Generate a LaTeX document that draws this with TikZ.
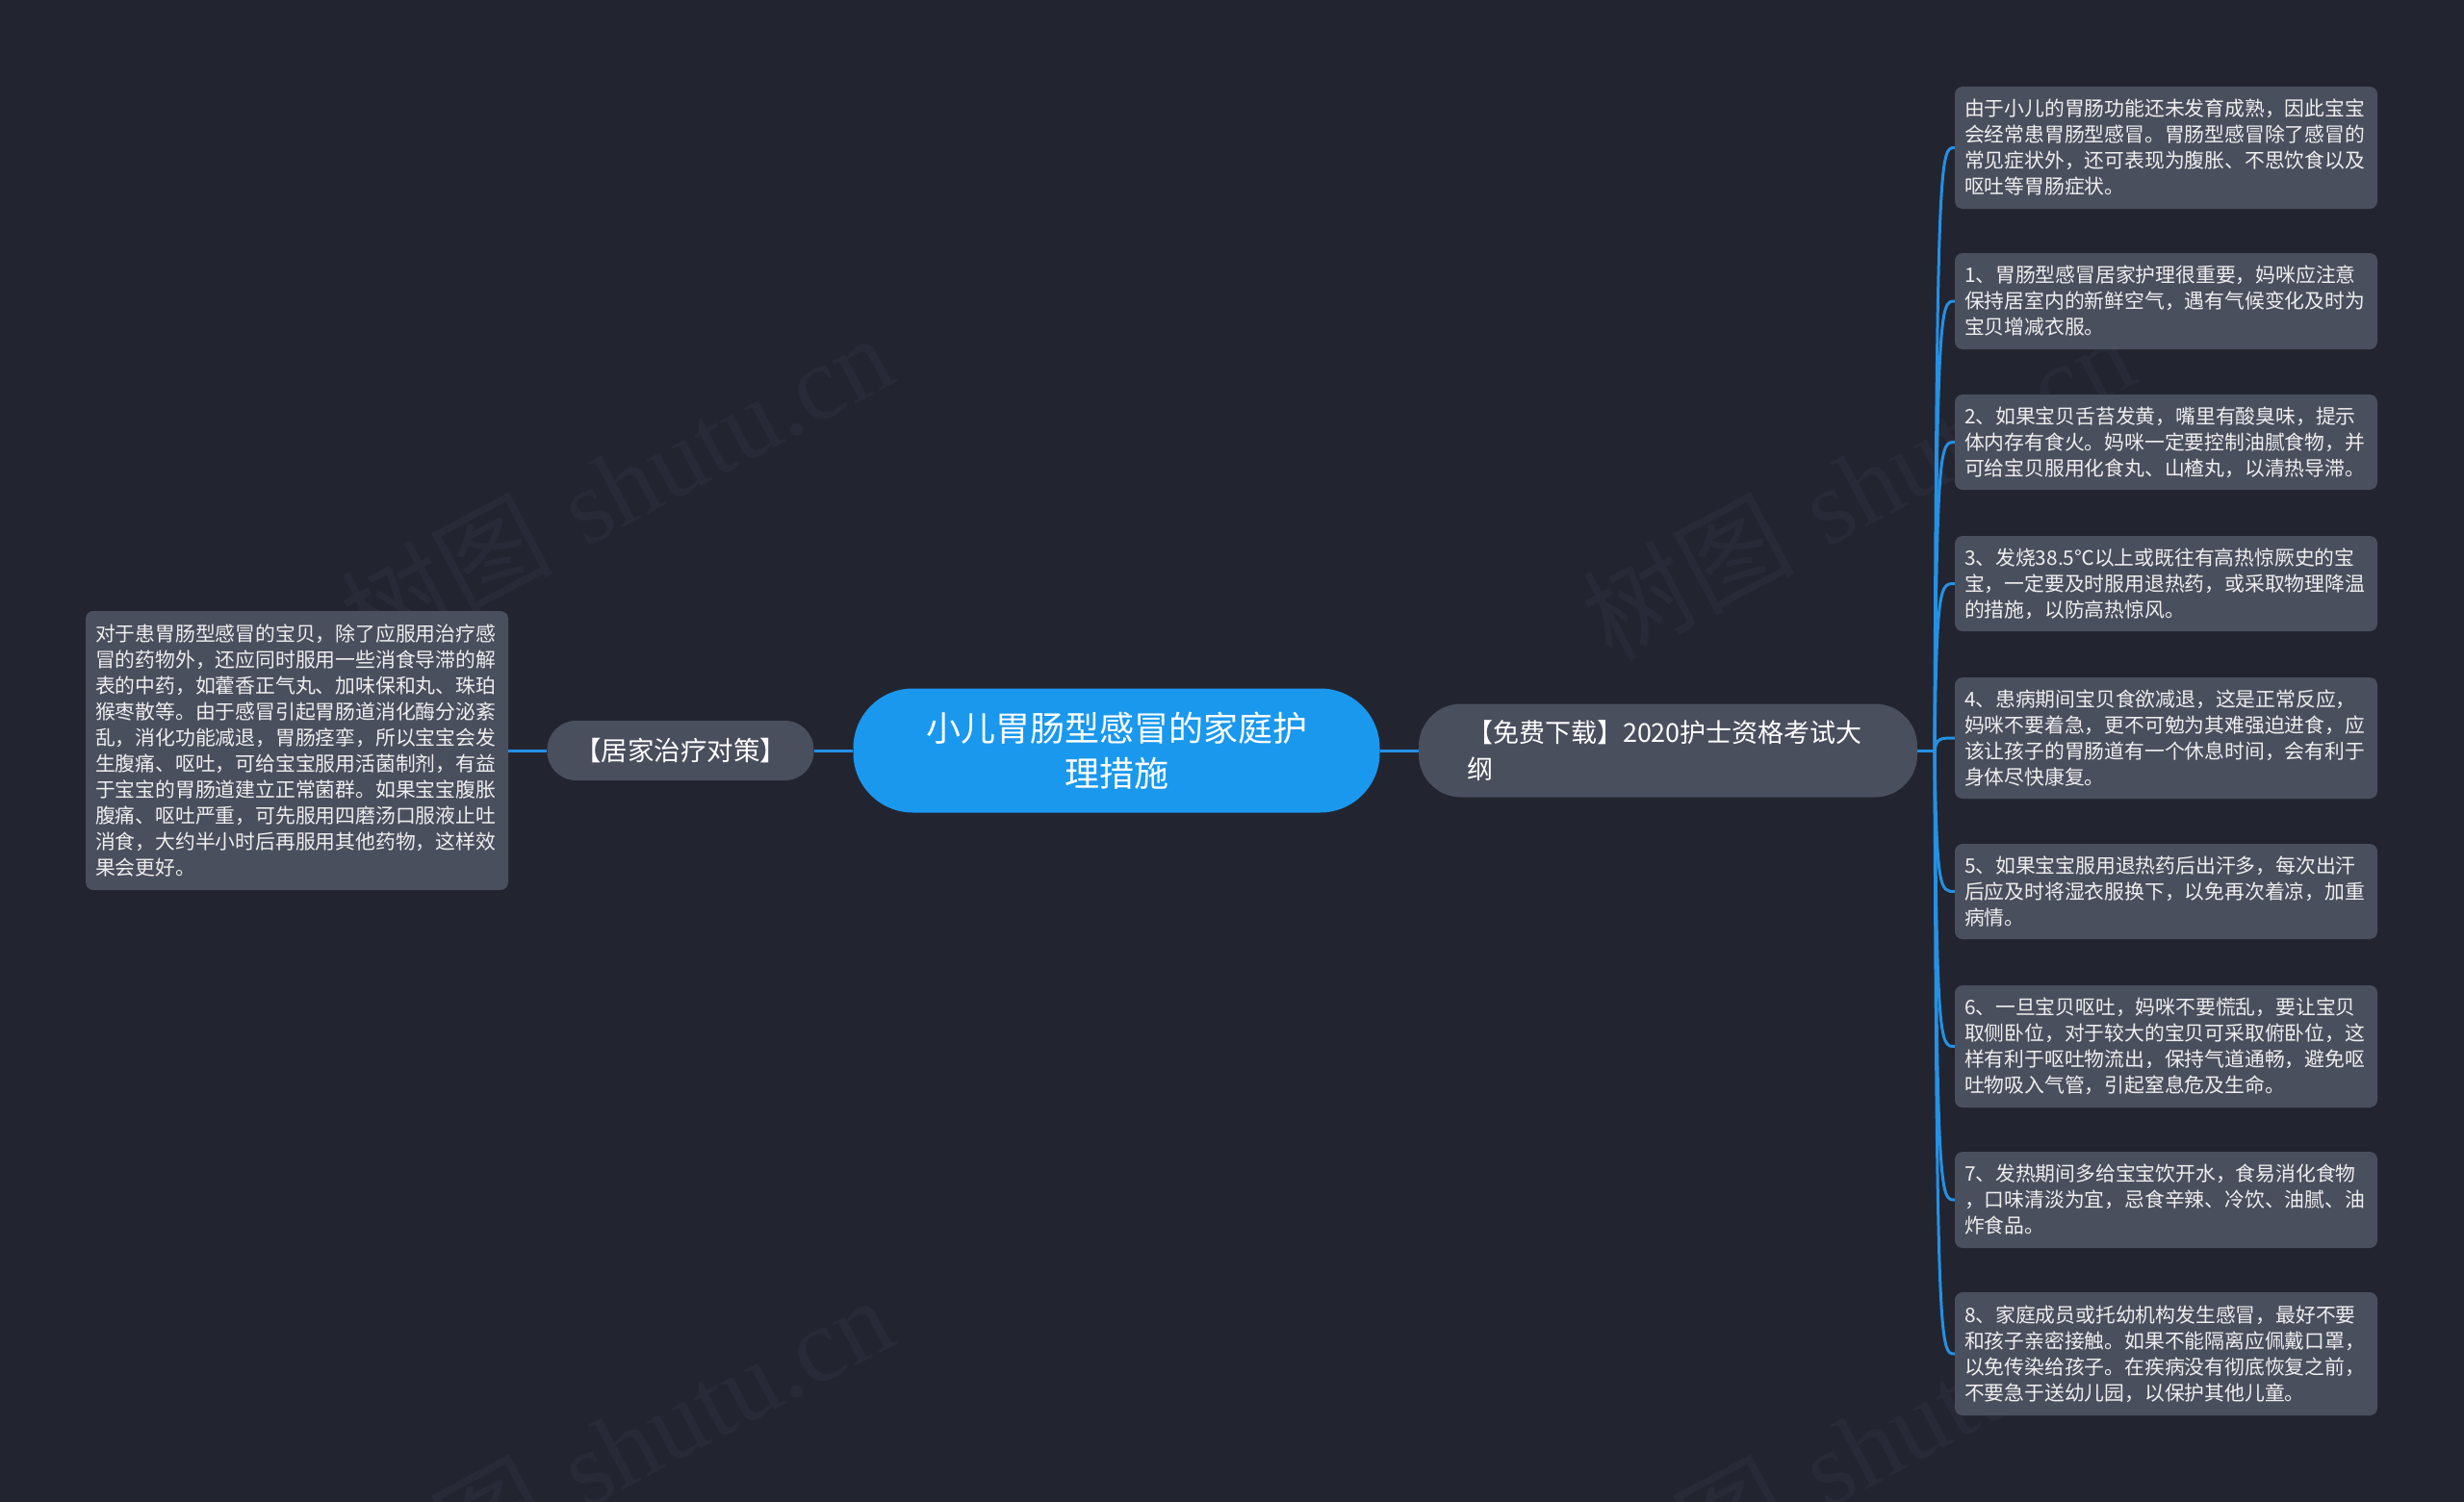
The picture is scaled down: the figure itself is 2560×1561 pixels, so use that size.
\documentclass[tikz,border=0pt]{standalone}
\usepackage{fontspec}
\usetikzlibrary{calc}
\newfontfamily\cjk{Noto Sans CJK SC}
\newfontfamily\wmserif{Liberation Serif}
\definecolor{bg}{HTML}{222530}
\definecolor{leaffill}{HTML}{4A4F5E}
\definecolor{mainblue}{HTML}{1A98EE}
\definecolor{linkblue}{HTML}{2590E4}
\definecolor{leaftext}{HTML}{EEEEEE}
\definecolor{wmcol}{HTML}{282B37}
\begin{document}
\begin{tikzpicture}[x=1pt,y=-1pt,
  leafbox/.style={fill=leaffill, rounded corners=8pt, text=leaftext,
    font=\cjk\fontsize{20.8}{27}\selectfont, text width=419pt,
    inner xsep=10pt, inner ysep=0pt, align=left},
  centerbox/.style={fill=mainblue, rounded corners=62pt, text=white,
    font=\cjk\fontsize{36}{47}\selectfont, align=center,
    minimum width=547pt, minimum height=129pt, inner sep=0pt},
  branchbox/.style={fill=leaffill, text=white, inner sep=0pt},
  link/.style={draw=linkblue, line width=3pt},
  wmark/.style={text=wmcol, rotate=28, inner sep=0pt, font=\fontsize{110}{110}\selectfont}]
\useasboundingbox (0,0) rectangle (2560,1561);
\fill[bg] (0,0) rectangle (2560,1561);

% watermarks
\node[wmark] (wm1) at (640,505) {{\cjk 树图} {\wmserif shutu.cn}};
\node[wmark] (wm2) at (1930,505) {{\cjk 树图} {\wmserif shutu.cn}};
\node[wmark] (wm3) at (640,1505) {{\cjk 树图} {\wmserif shutu.cn}};
\node[wmark] (wm4) at (1930,1505) {{\cjk 树图} {\wmserif shutu.cn}};

% center
\node[centerbox] (center) at (1160,780) {小儿胃肠型感冒的家庭护\\理措施};

% left branch
\node[branchbox, rounded corners=30pt, minimum width=277pt, minimum height=62pt,
  font=\cjk\fontsize{27.5}{36}\selectfont] (lbranch) at (707,780) {【居家治疗对策】};

% right branch
\node[branchbox, rounded corners=44pt, minimum height=97pt, text width=418pt,
  inner xsep=50pt, align=left, font=\cjk\fontsize{27}{38}\selectfont]
  (rbranch) at (1733,780) {【免费下载】2020护士资格考试大\\纲};

% left leaf
\node[leafbox, minimum height=290pt] (ll) at (308.5,780) {对于患胃肠型感冒的宝贝，除了应服用治疗感\\冒的药物外，还应同时服用一些消食导滞的解\\表的中药，如藿香正气丸、加味保和丸、珠珀\\猴枣散等。由于感冒引起胃肠道消化酶分泌紊\\乱，消化功能减退，胃肠痉挛，所以宝宝会发\\生腹痛、呕吐，可给宝宝服用活菌制剂，有益\\于宝宝的胃肠道建立正常菌群。如果宝宝腹胀\\腹痛、呕吐严重，可先服用四磨汤口服液止吐\\消食，大约半小时后再服用其他药物，这样效\\果会更好。};

% right leaves
\node[leafbox, minimum height=127pt] (r0) at (2250.5,153.5) {由于小儿的胃肠功能还未发育成熟，因此宝宝\\会经常患胃肠型感冒。胃肠型感冒除了感冒的\\常见症状外，还可表现为腹胀、不思饮食以及\\呕吐等胃肠症状。};
\node[leafbox, minimum height=100pt] (r1) at (2250.5,313) {1、胃肠型感冒居家护理很重要，妈咪应注意\\保持居室内的新鲜空气，遇有气候变化及时为\\宝贝增减衣服。};
\node[leafbox, minimum height=99pt] (r2) at (2250.5,459.5) {2、如果宝贝舌苔发黄，嘴里有酸臭味，提示\\体内存有食火。妈咪一定要控制油腻食物，并\\可给宝贝服用化食丸、山楂丸，以清热导滞。};
\node[leafbox, minimum height=99pt] (r3) at (2250.5,606.5) {3、发烧38.5℃以上或既往有高热惊厥史的宝\\宝，一定要及时服用退热药，或采取物理降温\\的措施，以防高热惊风。};
\node[leafbox, minimum height=126pt] (r4) at (2250.5,767) {4、患病期间宝贝食欲减退，这是正常反应，\\妈咪不要着急，更不可勉为其难强迫进食，应\\该让孩子的胃肠道有一个休息时间，会有利于\\身体尽快康复。};
\node[leafbox, minimum height=99pt] (r5) at (2250.5,926.5) {5、如果宝宝服用退热药后出汗多，每次出汗\\后应及时将湿衣服换下，以免再次着凉，加重\\病情。};
\node[leafbox, minimum height=127pt] (r6) at (2250.5,1087.5) {6、一旦宝贝呕吐，妈咪不要慌乱，要让宝贝\\取侧卧位，对于较大的宝贝可采取俯卧位，这\\样有利于呕吐物流出，保持气道通畅，避免呕\\吐物吸入气管，引起窒息危及生命。};
\node[leafbox, minimum height=100pt] (r7) at (2250.5,1247) {7、发热期间多给宝宝饮开水，食易消化食物\\，口味清淡为宜，忌食辛辣、冷饮、油腻、油\\炸食品。};
\node[leafbox, minimum height=128pt] (r8) at (2250.5,1407) {8、家庭成员或托幼机构发生感冒，最好不要\\和孩子亲密接触。如果不能隔离应佩戴口罩，\\以免传染给孩子。在疾病没有彻底恢复之前，\\不要急于送幼儿园，以保护其他儿童。};

% connectors
\draw[link] (ll.east) -- (lbranch.west);
\draw[link] (lbranch.east) -- (center.west);
\draw[link] (center.east) -- (rbranch.west);
\coordinate (J) at (2010,780);
\draw[link] (rbranch.east) -- (J);
\foreach \n in {r0,r1,r2,r3,r4,r5,r6,r7,r8}{
  \draw[link] (J) .. controls ($(J |- \n.west)+(2,0)$) and ($(J |- \n.west)+(6,0)$) .. (\n.west);
}
\end{tikzpicture}
\end{document}
